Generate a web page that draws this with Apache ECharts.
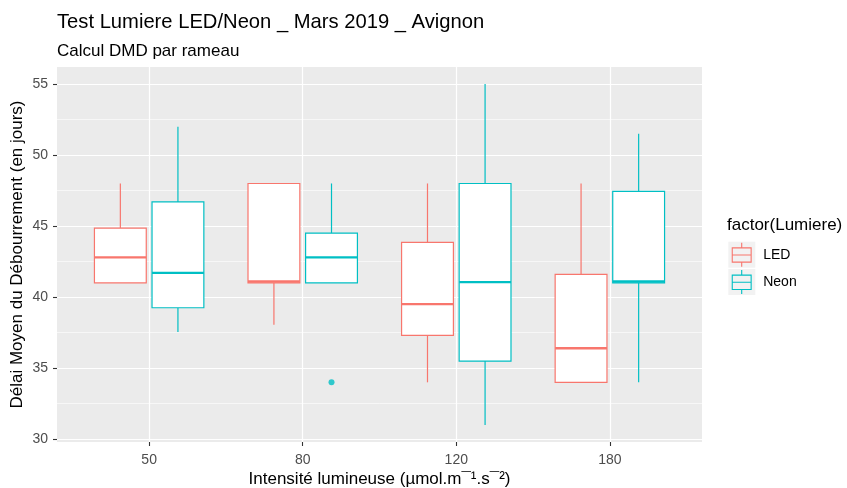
<!DOCTYPE html>
<html>
<head>
<meta charset="utf-8">
<script src="https://cdn.jsdelivr.net/npm/echarts@6/dist/echarts.min.js"></script>
<style>
  html, body { margin: 0; padding: 0; background: #fff; }
  #chart { width: 847px; height: 488px; }
</style>
</head>
<body>
<div id="chart"></div>
<script>
// intensités lumineuses
const categories = ['50', '80', '120', '180']
// [min, q1, médiane, q3, max] par intensité
const ledStats = [
  [41, 41, 42.8, 44.85, 48],
  [38.05, 41, 41.1, 48, 48],
  [34, 37.3, 39.5, 43.85, 48],
  [34, 34, 36.4, 41.6, 48]
]
const neonStats = [
  [37.55, 39.25, 41.7, 46.7, 52],
  [41, 41, 42.8, 44.5, 48],
  [31, 35.5, 41.05, 48, 55],
  [34, 41, 41.1, 47.45, 51.5]
]
// [index intensité, valeur]
const neonOutliers = [[1, 34]]
const yTicks = [30, 35, 40, 45, 50, 55]
const yMinor = [32.5, 37.5, 42.5, 47.5, 52.5]

const FONT = '"Liberation Sans", Arial, sans-serif'
const colors = { LED: '#F8766D', Neon: '#00BFC4' }
const dodge = 0.1875
const halfBox = 0.16875

function boxSeries(name, stats, offset) {
  return {
    name: name,
    type: 'custom',
    itemStyle: { color: colors[name] },
    encode: { x: 0, y: [1, 5] },
    data: stats.map((s, i) => [i].concat(s)),
    renderItem: function(params, api) {
      const x = api.value(0) + offset
      const lo = api.coord([x - halfBox, api.value(4)])
      const hi = api.coord([x + halfBox, api.value(2)])
      const c = colors[name]
      const line = (p1, p2, w) => ({
        type: 'line',
        shape: { x1: p1[0], y1: p1[1], x2: p2[0], y2: p2[1] },
        style: { stroke: c, lineWidth: w }
      })
      return {
        type: 'group',
        children: [
          line(api.coord([x, api.value(5)]), api.coord([x, api.value(4)]), 1.2),
          line(api.coord([x, api.value(2)]), api.coord([x, api.value(1)]), 1.2),
          {
            type: 'rect',
            shape: { x: lo[0], y: lo[1], width: hi[0] - lo[0], height: hi[1] - lo[1] },
            style: { fill: '#fff', stroke: c, lineWidth: 1.2 }
          },
          line(api.coord([x - halfBox, api.value(3)]), api.coord([x + halfBox, api.value(3)]), 2.3)
        ]
      }
    }
  }
}

// glyphe boxplot de la légende (20 x 24)
const keyPath = 'path://M9.45 0H10.55V4.7H9.45Z M0 4.6H20V5.7H0Z M0 18.9H20V20H0Z M0 4.6H1.1V20H0Z M18.9 4.6H20V20H18.9Z M0 11.7H20V12.8H0Z M9.45 19.9H10.55V24H9.45Z'

const chart = echarts.init(document.getElementById('chart'))
chart.setOption({
  backgroundColor: '#fff',
  animation: false,
  textStyle: { fontFamily: FONT },
  title: [
    { text: 'Test Lumiere LED/Neon _ Mars 2019 _ Avignon', left: 57, top: 12, padding: 0,
      textStyle: { fontFamily: FONT, fontSize: 20.2, fontWeight: 'normal', color: '#000' } },
    { text: 'Calcul DMD par rameau', left: 57, top: 43, padding: 0,
      textStyle: { fontFamily: FONT, fontSize: 17, fontWeight: 'normal', color: '#000' } },
    { text: 'factor(Lumiere)', left: 727, top: 217, padding: 0,
      textStyle: { fontFamily: FONT, fontSize: 17, fontWeight: 'normal', color: '#000' } }
  ],
  legend: [
    {
      orient: 'vertical', left: 728.3, top: 241.7, padding: 0,
      itemWidth: 27, itemHeight: 26, itemGap: 1.3,
      selectedMode: false, formatter: () => '',
      data: ['LED', 'Neon'].map(n => ({ name: n, icon: 'rect', itemStyle: { color: '#F2F2F2' } })),
      z: 1
    },
    {
      orient: 'vertical', left: 731.7, top: 242.7, padding: 0,
      itemWidth: 20, itemHeight: 24, itemGap: 3.3,
      selectedMode: false,
      textStyle: { fontFamily: FONT, fontSize: 14, color: '#000', padding: [0, 0, 0, 6.5] },
      data: ['LED', 'Neon'].map(n => ({ name: n, icon: keyPath })),
      z: 3
    }
  ],
  grid: {
    left: 57, right: 145, top: 67, bottom: 46,
    outerBoundsMode: 'none',
    containLabel: false,
    show: true, backgroundColor: '#EBEBEB', borderWidth: 0
  },
  xAxis: {
    type: 'value',
    min: -0.6,
    max: 3.6,
    name: 'Intensité lumineuse (µmol.m¯¹.s¯²)',
    nameLocation: 'middle',
    nameGap: 29,
    nameMoveOverlap: false,
    nameTextStyle: { fontFamily: FONT, fontSize: 17, color: '#000' },
    axisLine: { show: false, onZero: false },
    axisTick: { show: true, length: 4, customValues: categories.map((c, i) => i), lineStyle: { color: '#333', width: 1.1 } },
    axisLabel: {
      customValues: categories.map((c, i) => i),
      formatter: v => categories[Math.round(v)],
      margin: 11, fontFamily: FONT, fontSize: 14, color: '#4D4D4D'
    },
    splitLine: { show: true, lineStyle: { color: '#fff', width: 1.2 } }
  },
  yAxis: [
    {
      type: 'value',
      min: 29.8,
      max: 56.2,
      name: 'Délai Moyen du Débourrement (en jours)',
      nameLocation: 'middle',
      nameGap: 31,
      nameMoveOverlap: false,
      nameTextStyle: { fontFamily: FONT, fontSize: 17, color: '#000' },
      axisLine: { show: false, onZero: false },
      axisTick: { show: true, length: 4, customValues: yTicks, lineStyle: { color: '#333', width: 1.1 } },
      axisLabel: { customValues: yTicks, margin: 9, fontFamily: FONT, fontSize: 14, color: '#4D4D4D' },
      splitLine: { show: true, lineStyle: { color: '#fff', width: 1.2 } },
      z: 2
    },
    {
      type: 'value',
      min: 29.8,
      max: 56.2,
      axisLine: { show: false, onZero: false },
      axisTick: { show: false, customValues: yMinor },
      axisLabel: { show: false },
      splitLine: { show: true, lineStyle: { color: '#fff', width: 0.6 } },
      z: 1
    }
  ],
  series: [
    boxSeries('LED', ledStats, -dodge),
    boxSeries('Neon', neonStats, dodge),
    {
      name: 'Neon outliers',
      type: 'scatter',
      symbolSize: 6,
      itemStyle: { color: colors.Neon },
      data: neonOutliers.map(d => [d[0] + dodge, d[1]])
    }
  ]
})
</script>
</body>
</html>
